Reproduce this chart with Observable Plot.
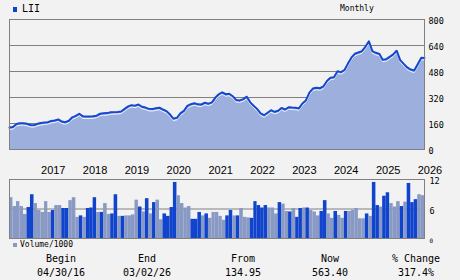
<!DOCTYPE html>
<html><head><meta charset="utf-8">
<script src="https://cdn.jsdelivr.net/npm/d3@7"></script>
<script src="https://cdn.jsdelivr.net/npm/@observablehq/plot@0.6"></script>
<style>
body{margin:0;background:#f2f2f2;}
#chart{position:relative;width:460px;height:280px;background:#f2f2f2;overflow:hidden;font-family:"DejaVu Sans Mono",monospace;color:#000;}
.abs{position:absolute;white-space:nowrap;line-height:12px;}
#chart svg{position:absolute;left:0;overflow:visible;}
</style></head><body><div id="chart"></div>
<script>
const ticker = "LII";
const period = "Monthly";
const volumeLabel = "Volume/1000";
const firstMonth = "2016-04-01";
const lastMonthEnd = "2026-04-01";
const prices = [135,138,157,162,162,158,151,150,158,163,166,168,176,179,185,172,168,177,198,207,
  220,204,203,203,204,208,220,223,224,229,230,231,234,250,265,273,270,277,263,258,
  250,249,254,257,246,236,215,190,195,222,238,268,279,285,278,277,288,282,290,318,
  340,352,340,343,328,304,302,310,325,290,268,250,222,211,226,242,232,238,256,246,
  260,258,257,253,283,302,350,375,380,377,388,422,441,445,482,476,488,527,565,589,
  597,605,632,666,605,595,588,553,556,570,585,608,550,527,505,492,486,525,565,563.4];
const volumes = [8.3,6.5,7.5,6.5,4.9,6.3,8.9,7.1,5.7,5.3,7.5,5.3,5.7,6.7,6.7,6.1,6.1,7.7,8.3,4.3,
  4.6,4.3,6.1,6.2,8.3,5.3,5.3,7.1,4.9,5.0,8.9,4.5,4.5,4.6,4.6,4.8,7.8,6.4,5.4,8.1,
  5.0,7.3,7.8,3.8,5.0,4.5,6.3,11.4,8.7,7.1,6.2,6.5,3.9,3.9,5.3,4.6,5.0,4.1,5.3,5.3,
  4.5,3.7,4.6,5.7,4.6,4.6,6.1,4.3,4.2,4.1,7.5,6.7,6.2,6.7,6.2,6.2,5.0,7.3,7.0,5.5,
  5.4,6.1,4.3,6.1,6.2,6.2,5.7,5.4,4.6,5.5,7.7,5.0,4.1,5.5,4.7,4.1,5.5,5.5,5.7,6.1,
  4.0,4.0,5.0,4.5,11.4,6.7,6.4,8.6,9.3,7.1,6.4,7.5,6.5,7.4,11.2,7.3,7.9,8.9,8.7];
const volumeUp = [0,0,0,0,0,1,1,0,0,0,0,0,1,0,0,1,1,0,0,0,
  1,0,1,1,1,0,1,0,0,1,1,0,1,0,0,0,0,1,0,1,
  0,1,0,0,1,1,1,1,0,0,0,0,1,1,1,0,1,0,0,0,
  0,0,1,1,0,1,0,0,0,1,1,1,1,1,0,0,0,1,0,0,
  1,0,1,1,0,1,0,0,0,1,1,0,0,1,0,0,1,0,0,0,
  0,0,1,0,1,1,0,1,1,0,0,0,1,0,1,1,1,0,0];
const priceTicks = [0,160,320,480,640,800];
const volumeTicks = [6,12];
const volumeZero = [0];
const yearTicks = [2017,2018,2019,2020,2021,2022,2023,2024,2025,2026];
const tableHeads = ["Begin","End","From","Now","% Change"];
const tableValues = ["04/30/16","03/02/26","134.95","563.40","317.4%"];

const months = d3.utcMonth.range(new Date(firstMonth), new Date(lastMonthEnd));
const priceData = prices.map((p, i) => ({date: months[i], price: p}));
const volData = volumes.map((v, i) => ({x1: months[i], x2: months[i + 1], v, up: volumeUp[i]}));
const yearDates = yearTicks.map(y => new Date(Date.UTC(y, 0, 1)));
const xDomain = [months[0], months[months.length - 1]];
const gray = "#808080";
const monoStyle = {background: "transparent", fontFamily: "'DejaVu Sans Mono', monospace", fontSize: "8.5px", color: "#000", overflow: "visible"};

const chart = document.getElementById("chart");

const pricePlot = Plot.plot({
  width: 460, height: 152,
  marginLeft: 9, marginRight: 36, marginTop: 19, marginBottom: 3,
  style: monoStyle,
  x: {type: "utc", domain: xDomain, axis: null},
  y: {domain: [0, 800], axis: null},
  marks: [
    Plot.gridY(priceTicks, {stroke: gray, strokeOpacity: 1, strokeWidth: 1}),
    Plot.areaY(priceData, {x: "date", y: "price", fill: "#9dafdc"}),
    Plot.lineY(priceData, {x: "date", y: "price", stroke: "#f4f6fc", strokeWidth: 1, dy: 2}),
    Plot.lineY(priceData, {x: "date", y: "price", stroke: "#1548d0", strokeWidth: 2}),
    Plot.frame({stroke: gray}),
    Plot.axisY(priceTicks, {anchor: "right", tickSize: 0, tickPadding: 4, dy: 1.5, fill: "#000", label: null})
  ]
});
pricePlot.style.top = "0px";
chart.appendChild(pricePlot);

const volPlot = Plot.plot({
  width: 460, height: 84,
  marginLeft: 9, marginRight: 36, marginTop: 21, marginBottom: 4,
  style: monoStyle,
  x: {type: "utc", domain: xDomain, axis: null},
  y: {domain: [0, 12], axis: null},
  color: {type: "identity"},
  marks: [
    Plot.gridY(volumeTicks, {stroke: gray, strokeOpacity: 1, strokeWidth: 1}),
    Plot.rectY(volData, {x1: "x1", x2: "x2", y: "v", fill: d => d.up ? "#1144cc" : "#8899c4"}),
    Plot.frame({stroke: gray}),
    Plot.axisY(volumeTicks, {anchor: "right", tickSize: 0, tickPadding: 5, dy: 2, fill: "#000", label: null}),
    Plot.axisY(volumeZero, {anchor: "right", tickSize: 0, tickPadding: 5, fontSize: 6, dy: 3, fill: "#000", label: null}),
    Plot.axisX(yearDates, {anchor: "top", tickSize: 0, tickPadding: 6, textAnchor: "start", label: null,
      tickFormat: d => String(d.getUTCFullYear()), fontFamily: "'Liberation Sans', Arial, sans-serif", fontSize: 11, fill: "#000"})
  ]
});
volPlot.style.top = "158px";
chart.appendChild(volPlot);

function addDiv(html, css) {
  const d = document.createElement("div");
  d.className = "abs";
  d.textContent = html;
  Object.assign(d.style, css);
  chart.appendChild(d);
  return d;
}
// legend: ticker
addDiv("", {left: "13px", top: "7px", width: "4px", height: "5px", background: "#1144cc"});
addDiv(ticker, {left: "22px", top: "3px", fontSize: "10px"});
addDiv(period, {left: "340px", top: "3px", fontSize: "8px"});
// legend: volume
addDiv("", {left: "13px", top: "243px", width: "4px", height: "4px", background: "#8899c4"});
addDiv(volumeLabel, {left: "20px", top: "239px", fontSize: "8px"});
// table
const colCenters = [61, 147, 243, 330, 416];
tableHeads.forEach((t, i) => addDiv(t, {left: colCenters[i] + "px", top: "253px", fontSize: "10px", transform: "translateX(-50%)"}));
tableValues.forEach((t, i) => addDiv(t, {left: colCenters[i] + "px", top: "267px", fontSize: "10px", transform: "translateX(-50%)"}));
</script></body></html>
